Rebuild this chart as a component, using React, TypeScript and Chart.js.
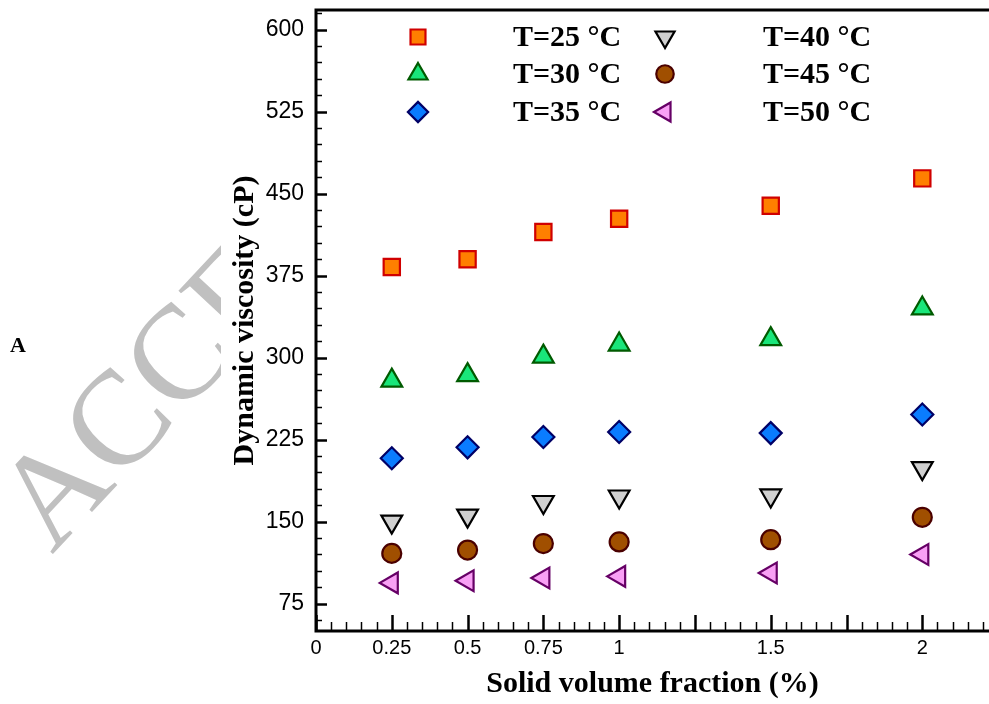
import { useEffect, useRef } from "react";
import { Chart, registerables } from "chart.js";
import { drawPoint } from "chart.js/helpers";

Chart.register(...registerables);

// ---- data ----
const fractions = [0.25, 0.5, 0.75, 1, 1.5, 2];
const visc25 = [383, 390, 415, 427, 439, 464];
const visc30 = [279, 284, 301, 312, 317, 345];
const visc35 = [208, 218, 227.5, 232, 231, 248];
const visc40 = [150, 155.5, 168, 173, 174, 199];
const visc45 = [121, 124, 130, 131.5, 133.5, 154];
const visc50 = [94, 96, 98.5, 100, 103, 120];
const seriesValues = [visc25, visc30, visc35, visc40, visc45, visc50];
const seriesLabels = ["T=25 °C", "T=30 °C", "T=35 °C", "T=40 °C", "T=45 °C", "T=50 °C"];
const xTickValues = [0, 0.25, 0.5, 0.75, 1, 1.5, 2];
const yTickValues = [75, 150, 225, 300, 375, 450, 525, 600];
const xTitle = "Solid volume fraction (%)";
const yTitle = "Dynamic viscosity (cP)";
const panelLabel = "A";
const watermarkText = "ACCEPTED MANUSCRIPT";

// ---- styles ----
const seriesStyles = [
  { pointStyle: "rect", rotation: 0, radius: 11.5, fill: "#ff7f00", stroke: "#d00000" },
  { pointStyle: "triangle", rotation: 0, radius: 12, fill: "#19e67a", stroke: "#005a00" },
  { pointStyle: "rectRot", rotation: 0, radius: 11, fill: "#0a7cff", stroke: "#000066" },
  { pointStyle: "triangle", rotation: 180, radius: 12, fill: "#d0d0d0", stroke: "#000000" },
  { pointStyle: "circle", rotation: 0, radius: 9.5, fill: "#a04f00", stroke: "#4a0000" },
  { pointStyle: "triangle", rotation: -90, radius: 12, fill: "#f9a0f5", stroke: "#660066" },
];

const SERIF = "'Liberation Serif', 'Times New Roman', serif";
const SANS = "'Liberation Sans', Arial, sans-serif";

const backgroundPlugin = {
  id: "bgWatermark",
  beforeDraw(chart: any) {
    const ctx = chart.ctx as CanvasRenderingContext2D;
    ctx.save();
    ctx.fillStyle = "#ffffff";
    ctx.fillRect(0, 0, chart.width, chart.height);
    // watermark, visible only left of the figure
    ctx.beginPath();
    ctx.rect(0, 0, 221, chart.height);
    ctx.clip();
    ctx.translate(52, 555);
    ctx.rotate((-47 * Math.PI) / 180);
    ctx.font = `134px ${SERIF}`;
    ctx.fillStyle = "#c0c0c0";
    ctx.textBaseline = "alphabetic";
    ctx.textAlign = "left";
    ctx.fillText(watermarkText, 0, 0);
    ctx.restore();
    // panel label
    ctx.save();
    ctx.font = `bold 22px ${SERIF}`;
    ctx.fillStyle = "#000";
    ctx.textBaseline = "alphabetic";
    ctx.fillText(panelLabel, 10, 352);
    ctx.restore();
  },
};

const framePlugin = {
  id: "frameTicks",
  afterDraw(chart: any) {
    const ctx = chart.ctx as CanvasRenderingContext2D;
    const { left, top, right, bottom } = chart.chartArea;
    const xs = chart.scales.x;
    const ys = chart.scales.y;
    ctx.save();
    ctx.strokeStyle = "#000";
    ctx.lineCap = "butt";
    // x ticks (inward)
    for (let i = 0; i * 0.05 <= xs.max + 1e-9; i++) {
      const v = i * 0.05;
      const px = Math.round(xs.getPixelForValue(v)) + 0.5;
      const major = i % 5 === 0;
      ctx.lineWidth = major ? 2.5 : 1.5;
      ctx.beginPath();
      ctx.moveTo(px, bottom);
      ctx.lineTo(px, bottom - (major ? 16 : 9));
      ctx.stroke();
    }
    // y ticks (inward)
    for (let i = Math.ceil(ys.min / 15); i * 15 <= ys.max; i++) {
      const v = i * 15;
      const py = Math.round(ys.getPixelForValue(v)) + 0.5;
      const major = v % 75 === 0;
      ctx.lineWidth = major ? 2.5 : 1.5;
      ctx.beginPath();
      ctx.moveTo(left, py);
      ctx.lineTo(left + (major ? 11 : 6), py);
      ctx.stroke();
    }
    // frame (left, top, bottom)
    ctx.lineWidth = 3;
    ctx.beginPath();
    ctx.moveTo(right + 2, top);
    ctx.lineTo(left, top);
    ctx.lineTo(left, bottom);
    ctx.lineTo(right + 2, bottom);
    ctx.stroke();
    ctx.restore();
  },
};

const legendPlugin = {
  id: "customLegend",
  afterDraw(chart: any) {
    const ctx = chart.ctx as CanvasRenderingContext2D;
    const markerX = [418, 665];
    const textX = [513, 763];
    const rowY = [37, 74, 112];
    ctx.save();
    seriesLabels.forEach((label, i) => {
      const col = i < 3 ? 0 : 1;
      const row = i % 3;
      const st = seriesStyles[i];
      ctx.fillStyle = st.fill;
      ctx.strokeStyle = st.stroke;
      ctx.lineWidth = 2.2;
      drawPoint(
        ctx,
        { pointStyle: st.pointStyle as any, rotation: st.rotation, radius: st.radius * 0.92, borderWidth: 2.2 },
        markerX[col],
        rowY[row]
      );
      ctx.fillStyle = "#000";
      ctx.font = `bold 30px ${SERIF}`;
      ctx.textBaseline = "middle";
      ctx.textAlign = "left";
      ctx.fillText(label, textX[col], rowY[row] + 1);
    });
    ctx.restore();
  },
};

export default function App() {
  const ref = useRef<HTMLCanvasElement | null>(null);

  useEffect(() => {
    const canvas = ref.current;
    if (!canvas) return;
    const datasets = seriesValues.map((vals, i) => {
      const st = seriesStyles[i];
      return {
        label: seriesLabels[i],
        data: fractions.map((x, j) => ({ x, y: vals[j] })),
        showLine: false,
        pointStyle: st.pointStyle as any,
        rotation: st.rotation,
        pointRadius: st.radius,
        pointHoverRadius: st.radius,
        pointBackgroundColor: st.fill,
        pointBorderColor: st.stroke,
        pointBorderWidth: 2.2,
        backgroundColor: st.fill,
        borderColor: st.stroke,
      };
    });
    const chart = new Chart(canvas, {
      type: "scatter",
      data: { datasets },
      options: {
        animation: false,
        responsive: false,
        devicePixelRatio: 1,
        events: [],
        layout: { padding: { left: 210, top: 10, right: 0, bottom: 0 }, autoPadding: false },
        plugins: { legend: { display: false }, tooltip: { enabled: false } },
        scales: {
          x: {
            type: "linear",
            min: 0,
            max: 2.22,
            afterBuildTicks: (scale: any) => {
              scale.ticks = xTickValues.map((value) => ({ value }));
            },
            afterFit: (scale: any) => {
              scale.height = 73;
              scale.paddingLeft = 0;
              scale.paddingRight = 0;
            },
            grid: { display: false, drawTicks: false },
            border: { display: false },
            ticks: {
              autoSkip: false,
              maxRotation: 0,
              padding: 5,
              color: "#000",
              font: { family: SANS, size: 20 },
              callback: (v: any) => String(v),
            },
            title: {
              display: true,
              text: xTitle,
              color: "#000",
              font: { family: SERIF, size: 30, weight: "bold" },
              padding: { top: 0, bottom: 2 },
            },
          },
          y: {
            type: "linear",
            min: 50,
            max: 618,
            afterBuildTicks: (scale: any) => {
              scale.ticks = yTickValues.map((value) => ({ value }));
            },
            afterFit: (scale: any) => {
              scale.width = 106;
              scale.paddingTop = 0;
              scale.paddingBottom = 0;
            },
            grid: { display: false, drawTicks: false },
            border: { display: false },
            ticks: {
              autoSkip: false,
              padding: 12,
              color: "#000",
              font: { family: SANS, size: 23 },
              callback: (v: any) => String(v),
            },
            title: {
              display: true,
              text: yTitle,
              color: "#000",
              font: { family: SERIF, size: 30, weight: "bold" },
              padding: { top: 17, bottom: 0 },
            },
          },
        },
      },
      plugins: [backgroundPlugin, framePlugin, legendPlugin],
    } as any);
    return () => chart.destroy();
  }, []);

  return (
    <canvas
      ref={ref}
      width={989}
      height={704}
      style={{ position: "absolute", left: 0, top: 0, display: "block" }}
    />
  );
}
